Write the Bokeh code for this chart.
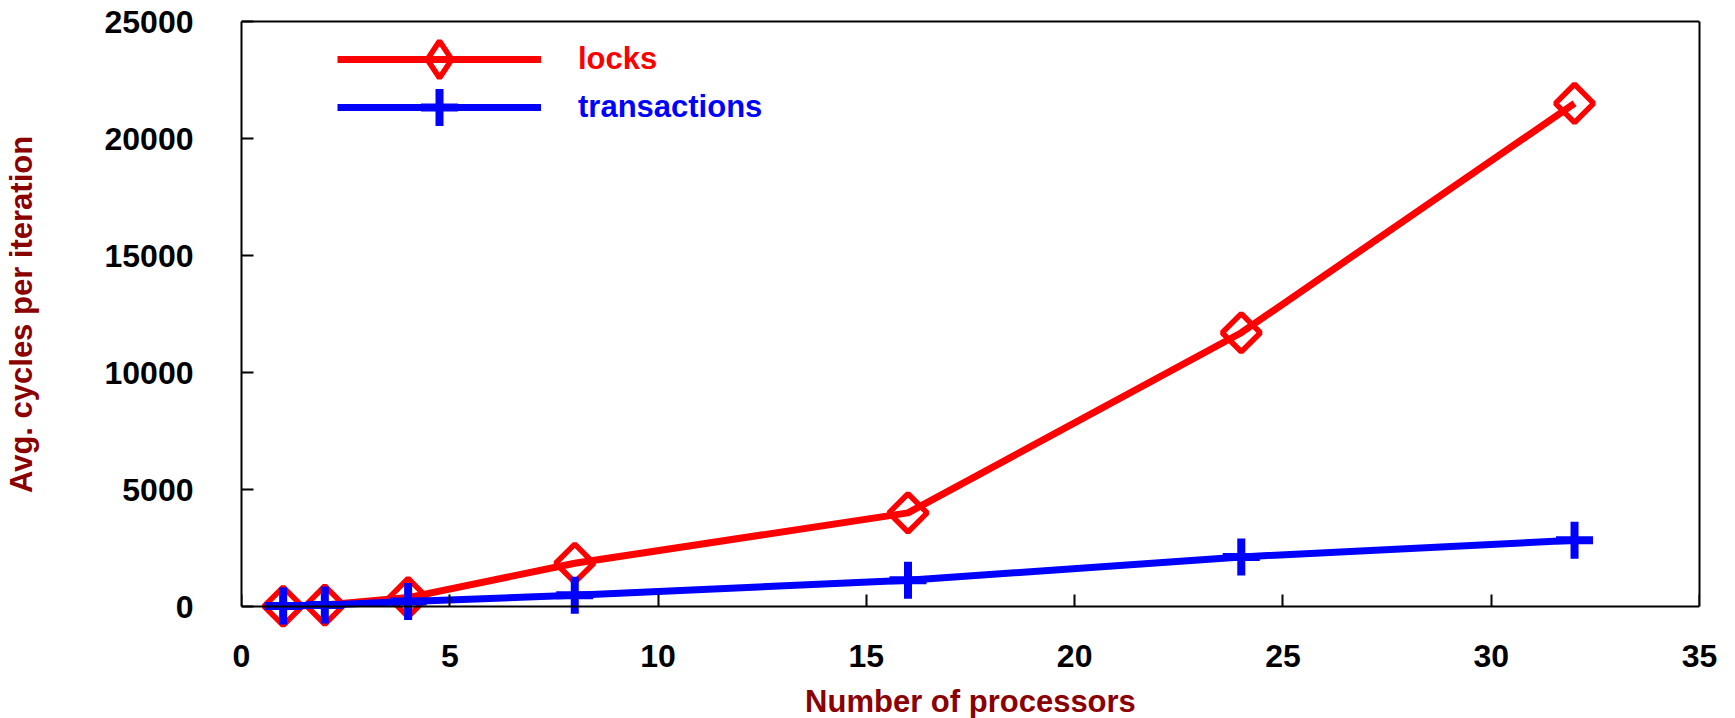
import math

from bokeh.embed import file_html
from bokeh.models import FixedTicker, Legend, LegendItem, LinearAxis, Range1d
from bokeh.plotting import figure
from bokeh.resources import INLINE

# Benchmark results: average cycles per loop iteration vs. processor count
processors = [1, 2, 4, 8, 16, 24, 32]
locks = [10, 60, 380, 1850, 4000, 11700, 21500]
transactions = [20, 60, 210, 480, 1120, 2120, 2830]

x_ticks = [0, 5, 10, 15, 20, 25, 30, 35]
y_ticks = [0, 5000, 10000, 15000, 20000, 25000]

FONT = "Liberation Sans"
LABEL_RED = "#8b0000"

X_MIN, X_MAX = x_ticks[0], x_ticks[-1]
Y_MIN, Y_MAX = y_ticks[0], y_ticks[-1]
BOX_W, BOX_H = 1458, 585
BOX_TOP = 21
# the frame reaches a bit past the data box so markers on zero are not cut off
PAD_B = 22
PAD_T = BOX_TOP
PER_PX = (Y_MAX - Y_MIN) / BOX_H

p = figure(
    frame_width=BOX_W,
    frame_height=BOX_H + PAD_B + PAD_T,
    min_border_left=241,
    min_border_right=36,
    min_border_top=0,
    min_border_bottom=10,
    x_range=Range1d(X_MIN, X_MAX),
    y_range=Range1d(Y_MIN - PAD_B * PER_PX, Y_MAX + PAD_T * PER_PX),
    output_backend="svg",
    toolbar_location=None,
)

p.background_fill_color = "white"
p.border_fill_color = "white"
p.outline_line_color = None
p.xgrid.visible = False
p.ygrid.visible = False


def style_text(ax):
    ax.major_label_text_font = FONT
    ax.major_label_text_font_style = "bold"
    ax.major_label_text_font_size = "32px"
    ax.major_label_text_color = "black"
    ax.axis_label_text_font = FONT
    ax.axis_label_text_font_style = "bold"
    ax.axis_label_text_font_size = "31px"
    ax.axis_label_text_color = LABEL_RED


def edge_axis(ticks=(), **kw):
    """An axis used only for a box edge (and optionally inward ticks)."""
    ax = LinearAxis(ticker=FixedTicker(ticks=list(ticks)), **kw)
    ax.axis_line_color = "black"
    ax.axis_line_width = 2
    ax.major_tick_in = 12
    ax.major_tick_out = 0
    ax.major_tick_line_width = 2
    ax.major_tick_line_color = "black" if ticks else None
    ax.minor_tick_line_color = None
    ax.major_label_overrides = {t: "" for t in ticks}
    ax.major_label_standoff = 0
    return ax


# y axis: left box edge, inward ticks and labels
yax = p.yaxis[0]
yax.bounds = (Y_MIN, Y_MAX)
yax.ticker = FixedTicker(ticks=y_ticks)
yax.axis_line_color = "black"
yax.axis_line_width = 2
yax.major_tick_in = 12
yax.major_tick_out = 0
yax.major_tick_line_width = 2
yax.minor_tick_line_color = None
yax.major_label_standoff = 48
yax.axis_label = "Avg. cycles per iteration"
yax.axis_label_standoff = 63
style_text(yax)

# x axis carrying the tick labels and the title
xax = p.xaxis[0]
xax.ticker = FixedTicker(ticks=x_ticks)
xax.axis_line_color = None
xax.major_tick_line_color = None
xax.minor_tick_line_color = None
xax.major_label_standoff = 10
xax.axis_label = "Number of processors"
xax.axis_label_standoff = 14
style_text(xax)

# bottom edge with inward ticks on y = 0, top edge on y = 25000, right edge
p.add_layout(edge_axis(x_ticks, fixed_location=Y_MIN, bounds=(X_MIN, X_MAX)), "below")
p.add_layout(edge_axis(fixed_location=Y_MAX, bounds=(X_MIN, X_MAX)), "below")
p.add_layout(edge_axis(bounds=(Y_MIN, Y_MAX)), "right")

# locks: red line with hollow diamonds
lk_line = p.line(processors, locks, line_color="red", line_width=7)
p.scatter(processors, locks, marker="square", size=27, angle=math.pi / 4,
          fill_color=None, line_color="red", line_width=5.5)
# key sample for the legend (legend glyphs are always drawn unrotated)
lk_key = p.scatter(processors, locks, marker="diamond", size=27, visible=False,
                   fill_color=None, line_color="red", line_width=5.5)

# transactions: blue line with crosses
tx_line = p.line(processors, transactions, line_color="blue", line_width=7)
tx_pts = p.scatter(processors, transactions, marker="cross", size=37,
                   line_color="blue", line_width=8)

frame_bottom = BOX_TOP + BOX_H + PAD_B


def make_legend(label, renderers, color, center_y, glyph_h=92):
    top = center_y - glyph_h / 2
    leg = Legend(
        items=[LegendItem(label=label, renderers=renderers)],
        location=(337 - 241, frame_bottom - top - glyph_h),
        glyph_width=204,
        glyph_height=glyph_h,
        label_height=glyph_h,
        label_standoff=37,
        padding=0,
        margin=0,
        spacing=0,
        border_line_color=None,
        background_fill_alpha=0,
        inactive_fill_alpha=0,
        label_text_font=FONT,
        label_text_font_style="bold",
        label_text_font_size="31px",
        label_text_color=color,
    )
    p.add_layout(leg)


make_legend("locks", [lk_line, lk_key], "red", 59)
make_legend("transactions", [tx_line, tx_pts], "blue", 107)

open("out.html", "w").write(file_html(p, INLINE))
